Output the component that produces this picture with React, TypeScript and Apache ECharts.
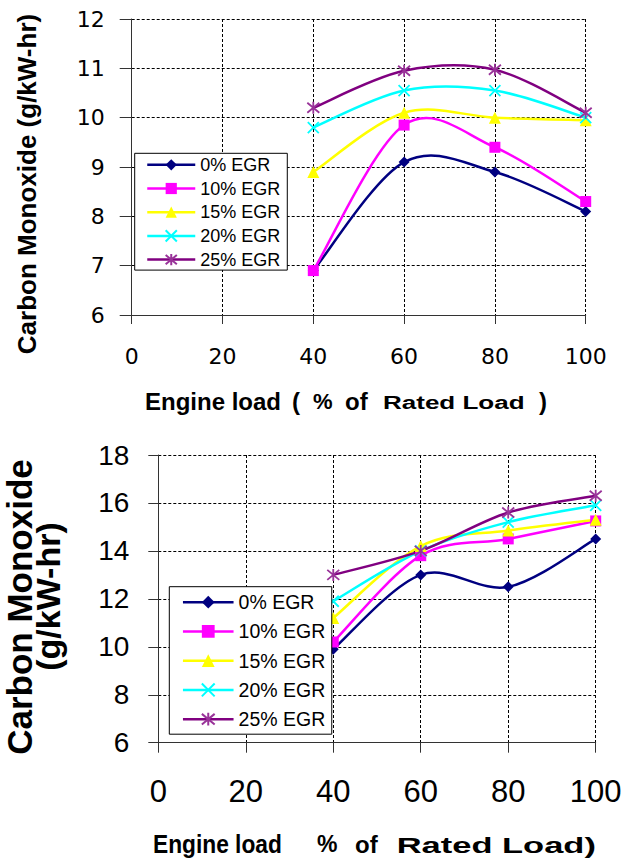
import React, { useEffect, useRef } from 'react';
import * as echarts from 'echarts';

// ---------- data ----------
const loads = [40, 60, 80, 100];
const seriesNames = ['0% EGR', '10% EGR', '15% EGR', '20% EGR', '25% EGR'];

// top chart (g/kW-hr)
const topEgr0 = [6.9, 9.1, 8.9, 8.1];
const topEgr10 = [6.9, 9.85, 9.4, 8.3];
const topEgr15 = [8.9, 10.1, 10.0, 9.95];
const topEgr20 = [9.8, 10.55, 10.55, 10.0];
const topEgr25 = [10.2, 10.95, 10.97, 10.1];

// bottom chart (g/kW-hr)
const botEgr0 = [9.9, 13.0, 12.5, 14.5];
const botEgr10 = [10.2, 13.8, 14.5, 15.25];
const botEgr15 = [11.2, 14.2, 14.85, 15.3];
const botEgr20 = [11.9, 14.0, 15.2, 15.9];
const botEgr25 = [13.0, 14.0, 15.6, 16.3];

const yTitle = 'Carbon Monoxide (g/kW-hr)';
const yTitleLine1 = 'Carbon Monoxide';
const yTitleLine2 = '(g/kW-hr)';

// ---------- styles ----------
const lineColors = ['#000080', '#FF00FF', '#FFFF00', '#00FFFF', '#800080'];
const markerColors = ['#000080', '#FF00FF', '#FFFF00', '#00FFFF', '#993399'];
const SYM_X = 'path://M0,0L10,10M10,0L0,10';
const SYM_AST = 'path://M0,0L10,10M10,0L0,10M5,-1L5,11';
const symbols = ['diamond', 'rect', 'triangle', SYM_X, SYM_AST];
const symbolSizes = [11, 11, 12, 11, 12];
const ARIAL = 'Liberation Sans, Arial, sans-serif';
const WIDE = 'DejaVu Sans, sans-serif';

// Excel-like smoothed curve (Catmull-Rom style bezier), points mapped through the axes
function curveSeries(vals: number[], i: number, axisIndex: number) {
  const color = lineColors[i];
  return {
    type: 'custom',
    name: seriesNames[i] + ' curve',
    coordinateSystem: 'cartesian2d',
    xAxisIndex: axisIndex,
    yAxisIndex: axisIndex,
    silent: true,
    z: 2,
    encode: { x: 0, y: 1 },
    data: loads.map((x, k) => [x, vals[k]]),
    renderItem: (params: any, api: any) => {
      const k = params.dataIndexInside;
      const n = params.dataInsideLength;
      if (k >= n - 1) return null;
      const P = (j: number) => api.coord([api.value(0, j), api.value(1, j)]);
      const p0 = P(Math.max(k - 1, 0));
      const p1 = P(k);
      const p2 = P(k + 1);
      const p3 = P(Math.min(k + 2, n - 1));
      return {
        type: 'bezierCurve',
        shape: {
          x1: p1[0], y1: p1[1],
          cpx1: p1[0] + (p2[0] - p0[0]) / 6, cpy1: p1[1] + (p2[1] - p0[1]) / 6,
          cpx2: p2[0] - (p3[0] - p1[0]) / 6, cpy2: p2[1] - (p3[1] - p1[1]) / 6,
          x2: p2[0], y2: p2[1],
        },
        style: { stroke: color, lineWidth: 2.5, fill: null },
      };
    },
  };
}

function markerSeries(vals: number[], i: number, axisIndex: number) {
  const stroked = i >= 3;
  return {
    type: 'line',
    name: seriesNames[i],
    xAxisIndex: axisIndex,
    yAxisIndex: axisIndex,
    data: loads.map((x, k) => [x, vals[k]]),
    symbol: symbols[i],
    symbolSize: symbolSizes[i],
    showAllSymbol: true,
    lineStyle: { color: lineColors[i], width: 0 },
    itemStyle: stroked
      ? { color: markerColors[i], borderColor: markerColors[i], borderWidth: 1.8 }
      : { color: markerColors[i], borderWidth: 0 },
    z: 3 + i,
    clip: false,
  };
}

function makeSeries(values: number[][], axisIndex: number) {
  return [
    ...values.map((v, i) => markerSeries(v, i, axisIndex)),
    ...values.map((v, i) => curveSeries(v, i, axisIndex)),
  ];
}

function axisCommon(tickLen: number) {
  return {
    axisLine: { show: true, lineStyle: { color: '#333', width: 1 } },
    axisTick: { show: true, length: tickLen, lineStyle: { color: '#333', width: 1 } },
    splitLine: { show: true, lineStyle: { color: '#000', width: 1, type: [3, 2] } },
  };
}

export default function App() {
  const ref = useRef<HTMLDivElement>(null);
  useEffect(() => {
    if (!ref.current) return;
    const chart = echarts.init(ref.current, undefined, { renderer: 'svg' });
    const legendItems = seriesNames.map((name, i) => ({
      name,
      lineStyle: { color: lineColors[i], width: 2.5, opacity: 1 },
    }));
    const option: any = {
      animation: false,
      backgroundColor: '#fff',
      grid: [
        { left: 131.7, top: 19, width: 454, height: 296 },
        { left: 158.3, top: 455, width: 437.4, height: 287.7 },
      ],
      xAxis: [
        {
          type: 'value', gridIndex: 0, min: 0, max: 100, interval: 20,
          ...axisCommon(9),
          axisLabel: { color: '#000', fontFamily: WIDE, fontSize: 22, margin: 30 },
        },
        {
          type: 'value', gridIndex: 1, min: 0, max: 100, interval: 20,
          ...axisCommon(10),
          axisLabel: { color: '#000', fontFamily: ARIAL, fontSize: 31, margin: 33 },
        },
      ],
      yAxis: [
        {
          type: 'value', gridIndex: 0, min: 6, max: 12, interval: 1,
          ...axisCommon(12),
          axisLabel: { color: '#000', fontFamily: WIDE, fontSize: 22, margin: 27 },
        },
        {
          type: 'value', gridIndex: 1, min: 6, max: 18, interval: 2,
          ...axisCommon(10),
          axisLabel: { color: '#000', fontFamily: ARIAL, fontSize: 28, margin: 29 },
        },
      ],
      legend: [
        {
          orient: 'vertical', left: 134.7, top: 153.3,
          padding: [2.5, 7, 1.5, 11.3],
          itemWidth: 48, itemHeight: 14, itemGap: 5.7,
          data: legendItems,
          backgroundColor: '#fff', borderColor: '#000', borderWidth: 1,
          textStyle: { color: '#000', fontFamily: ARIAL, fontSize: 18 },
          lineStyle: { width: 2.5 },
          selectedMode: false, z: 10,
        },
        {
          orient: 'vertical', left: 169.3, top: 586.7,
          padding: [5.5, 6.5, 5, 12.4],
          itemWidth: 50.6, itemHeight: 16, itemGap: 9.25,
          data: legendItems,
          backgroundColor: '#fff', borderColor: '#000', borderWidth: 1,
          textStyle: { color: '#000', fontFamily: ARIAL, fontSize: 19.5 },
          lineStyle: { width: 2.5 },
          selectedMode: false, z: 10,
        },
      ],
      series: [
        ...makeSeries([topEgr0, topEgr10, topEgr15, topEgr20, topEgr25], 0),
        ...makeSeries([botEgr0, botEgr10, botEgr15, botEgr20, botEgr25], 1),
      ],
      graphic: [
        // top y title
        {
          type: 'text', x: 27.4, y: 184, rotation: Math.PI / 2,
          style: { text: yTitle, fontFamily: ARIAL, fontWeight: 'bold', fontSize: 26, fill: '#000', align: 'center', verticalAlign: 'middle' },
        },
        // top x title
        { type: 'text', x: 145, y: 401.5, style: { text: 'Engine load', fontFamily: ARIAL, fontWeight: 'bold', fontSize: 24, fill: '#000', align: 'left', verticalAlign: 'middle' } },
        { type: 'text', x: 292, y: 401.5, style: { text: '(', fontFamily: ARIAL, fontWeight: 'bold', fontSize: 24, fill: '#000', align: 'left', verticalAlign: 'middle' } },
        { type: 'text', x: 313, y: 401.5, style: { text: '%', fontFamily: ARIAL, fontWeight: 'bold', fontSize: 22, fill: '#000', align: 'left', verticalAlign: 'middle' } },
        { type: 'text', x: 345, y: 401.5, style: { text: 'of', fontFamily: ARIAL, fontWeight: 'bold', fontSize: 24, fill: '#000', align: 'left', verticalAlign: 'middle' } },
        { type: 'text', x: 383, y: 402.7, scaleX: 1.37, style: { text: 'Rated Load', fontFamily: ARIAL, fontWeight: 'bold', fontSize: 19, fill: '#000', align: 'left', verticalAlign: 'middle' } },
        { type: 'text', x: 539, y: 401.5, style: { text: ')', fontFamily: ARIAL, fontWeight: 'bold', fontSize: 24, fill: '#000', align: 'left', verticalAlign: 'middle' } },
        // bottom y title (two lines)
        {
          type: 'text', x: 19, y: 607, rotation: Math.PI / 2,
          style: { text: yTitleLine1, fontFamily: ARIAL, fontWeight: 'bold', fontSize: 35, fill: '#000', align: 'center', verticalAlign: 'middle' },
        },
        {
          type: 'text', x: 48, y: 596.5, rotation: Math.PI / 2,
          style: { text: yTitleLine2, fontFamily: ARIAL, fontWeight: 'bold', fontSize: 34, fill: '#000', align: 'center', verticalAlign: 'middle' },
        },
        // bottom x title
        { type: 'text', x: 153, y: 844, scaleX: 0.91, style: { text: 'Engine load', fontFamily: ARIAL, fontWeight: 'bold', fontSize: 25, fill: '#000', align: 'left', verticalAlign: 'middle' } },
        { type: 'text', x: 317, y: 844, style: { text: '%', fontFamily: ARIAL, fontWeight: 'bold', fontSize: 23, fill: '#000', align: 'left', verticalAlign: 'middle' } },
        { type: 'text', x: 355, y: 844, style: { text: 'of', fontFamily: ARIAL, fontWeight: 'bold', fontSize: 24, fill: '#000', align: 'left', verticalAlign: 'middle' } },
        { type: 'text', x: 396.7, y: 845, scaleX: 1.5, style: { text: 'Rated Load)', fontFamily: ARIAL, fontWeight: 'bold', fontSize: 23, fill: '#000', align: 'left', verticalAlign: 'middle' } },
      ],
    };
    chart.setOption(option);
    return () => chart.dispose();
  }, []);
  return (
    <div
      ref={ref}
      style={{ position: 'absolute', left: 0, top: 0, width: 628, height: 866, background: '#fff' }}
    />
  );
}
